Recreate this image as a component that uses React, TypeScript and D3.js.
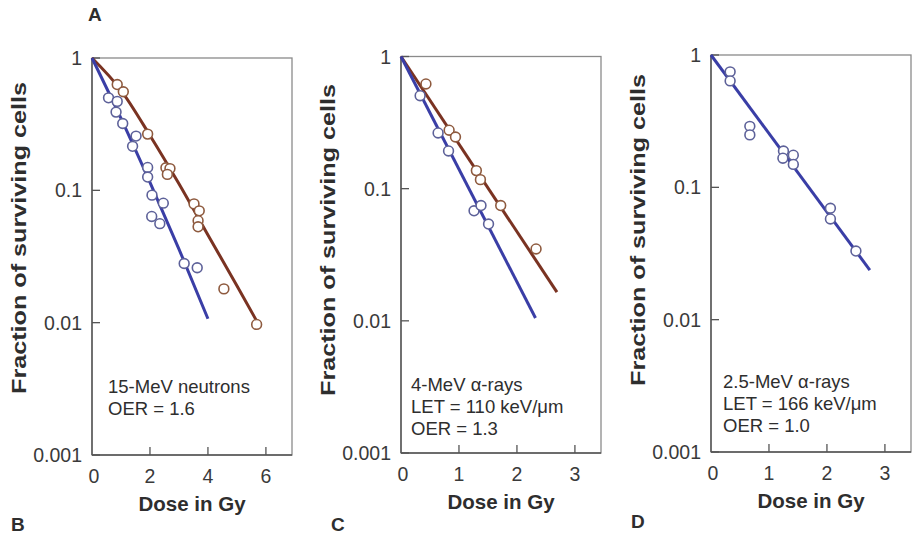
import React from 'react';
import * as d3 from 'd3';

type Pt = [number, number]; // [dose in Gy, surviving fraction]

// Shared survival axis
const yTickValues = [1, 0.1, 0.01, 0.001];
const yTickLabels = ['1', '0.1', '0.01', '0.001'];

// Panel B: 15-MeV neutrons
const neutronXTicks = [0, 2, 4, 6];
const neutronAerobicPts: Pt[] = [
  [0.57, 0.5], [0.87, 0.47], [0.83, 0.39], [1.06, 0.32], [1.52, 0.257], [1.4, 0.215],
  [1.92, 0.149], [1.92, 0.126], [2.07, 0.092], [2.46, 0.08], [2.06, 0.0635], [2.34, 0.056],
  [3.18, 0.028], [3.63, 0.026],
];
const neutronHypoxicPts: Pt[] = [
  [0.87, 0.63], [1.08, 0.556], [1.92, 0.266], [2.55, 0.148], [2.69, 0.146], [2.6, 0.132],
  [3.52, 0.079], [3.7, 0.07], [3.66, 0.059], [3.66, 0.053], [4.55, 0.018], [5.68, 0.0097],
];
const neutronAerobicCurve: Pt[] = [[0, 1], [1, 0.35], [2, 0.115], [3, 0.036], [4, 0.0107]];
const neutronHypoxicCurve: Pt[] = [
  [0, 1], [1, 0.57], [2, 0.26], [3, 0.112], [4, 0.046], [5, 0.019], [5.66, 0.0105],
];
const neutronNote = ['15-MeV neutrons', 'OER = 1.6'];

// Panel C: 4-MeV alpha particles
const alphaXTicks = [0, 1, 2, 3];
const alpha4AerobicPts: Pt[] = [
  [0.33, 0.505], [0.64, 0.264], [0.82, 0.193], [1.26, 0.068], [1.38, 0.0745], [1.51, 0.054],
];
const alpha4HypoxicPts: Pt[] = [
  [0.43, 0.62], [0.83, 0.277], [0.94, 0.246], [1.3, 0.137], [1.37, 0.117], [1.72, 0.0745],
  [2.33, 0.035],
];
const alpha4AerobicCurve: Pt[] = [[0, 1], [2.32, 0.0105]];
const alpha4HypoxicCurve: Pt[] = [[0, 1], [2.69, 0.0165]];
const alpha4Note = ['4-MeV \u03b1-rays', 'LET = 110 keV/\u03bcm', 'OER = 1.3'];

// Panel D: 2.5-MeV alpha particles
const alpha25Pts: Pt[] = [
  [0.33, 0.746], [0.33, 0.637], [0.67, 0.289], [0.67, 0.249], [1.25, 0.188], [1.24, 0.166],
  [1.42, 0.175], [1.42, 0.149], [2.06, 0.0695], [2.06, 0.0577], [2.5, 0.033],
];
const alpha25Curve: Pt[] = [[0, 1], [2.74, 0.0237]];
const alpha25Note = ['2.5-MeV \u03b1-rays', 'LET = 166 keV/\u03bcm', 'OER = 1.0'];

const BLUE = '#3a3ea6';
const BROWN = '#7a3322';
const BLUE_PT = '#5d6199';
const BROWN_PT = '#8e5a3e';
const TEXT = '#2e2e2e';
const TICK_TEXT = '#3a3a3a';
const FONT = "'Liberation Sans', Arial, Helvetica, sans-serif";

interface Series {
  curve: Pt[];
  points: Pt[];
  line: string;
  marker: string;
}

interface PanelProps {
  left: number;
  right: number;
  top: number;
  bottom: number;
  xMax: number;
  xTicks: number[];
  series: Series[];
  note: string[];
  noteX: number;
  noteY: number;
  titleY: number;
  letter: string;
  letterX: number;
  letterY: number;
}

function Panel(p: PanelProps) {
  const x = d3.scaleLinear().domain([0, p.xMax]).range([p.left, p.right]);
  const y = d3.scaleLog().domain([0.001, 1]).range([p.bottom, p.top]);
  const line = d3
    .line<Pt>()
    .x((d) => x(d[0]))
    .y((d) => y(d[1]))
    .curve(d3.curveMonotoneX);
  const cx = (p.left + p.right) / 2;
  return (
    <g>
      {/* frame */}
      <rect
        x={p.left}
        y={p.top}
        width={p.right - p.left}
        height={p.bottom - p.top}
        fill="none"
        stroke="#8a8a8a"
        strokeWidth={1.3}
      />
      <line x1={p.left} x2={p.left} y1={p.top} y2={p.bottom} stroke="#555" strokeWidth={1.4} />
      <line x1={p.left} x2={p.right} y1={p.bottom} y2={p.bottom} stroke="#555" strokeWidth={1.4} />

      {/* y ticks */}
      {yTickValues.map((v, i) => (
        <g key={'y' + i}>
          <line x1={p.left} x2={p.left + 8} y1={y(v)} y2={y(v)} stroke="#555" strokeWidth={1.3} />
          <text
            x={p.left - 10}
            y={y(v)}
            dy="0.36em"
            textAnchor="end"
            fontSize={19.5}
            fill={TICK_TEXT}
            fontFamily={FONT}
          >
            {yTickLabels[i]}
          </text>
        </g>
      ))}

      {/* x ticks */}
      {p.xTicks.map((v) => (
        <g key={'x' + v}>
          {v > 0 && (
            <line x1={x(v)} x2={x(v)} y1={p.bottom} y2={p.bottom - 8} stroke="#555" strokeWidth={1.3} />
          )}
          <text
            x={x(v) + (v === 0 ? 2 : 0)}
            y={p.bottom + 28}
            textAnchor="middle"
            fontSize={19.5}
            fill={TICK_TEXT}
            fontFamily={FONT}
          >
            {v}
          </text>
        </g>
      ))}

      {/* axis titles */}
      <text
        x={cx}
        y={p.bottom + 56}
        textAnchor="middle"
        fontSize={20.5}
        fontWeight="bold"
        fill={TEXT}
        fontFamily={FONT}
      >
        Dose in Gy
      </text>
      <text
        transform={`translate(${p.left - 66},${p.titleY}) rotate(-90)`}
        textAnchor="middle"
        fontSize={21}
        fontWeight="bold"
        fill={TEXT}
        fontFamily={FONT}
        textLength={312}
        lengthAdjust="spacingAndGlyphs"
      >
        Fraction of surviving cells
      </text>

      {/* survival curves */}
      {p.series.map((s, i) => (
        <path key={'c' + i} d={line(s.curve) || ''} fill="none" stroke={s.line} strokeWidth={3} />
      ))}

      {/* measured points */}
      {p.series.map((s, i) =>
        s.points.map((d, j) => (
          <circle
            key={`p${i}-${j}`}
            cx={x(d[0])}
            cy={y(d[1])}
            r={4.9}
            fill="#fff"
            stroke={s.marker}
            strokeWidth={1.6}
          />
        ))
      )}

      {/* radiation label */}
      {p.note.map((t, i) => (
        <text
          key={'n' + i}
          x={p.noteX}
          y={p.noteY + i * 22}
          fontSize={18.5}
          fill={TEXT}
          fontFamily={FONT}
        >
          {t}
        </text>
      ))}

      <text
        x={p.letterX}
        y={p.letterY}
        fontSize={19}
        fontWeight="bold"
        fill={TEXT}
        fontFamily={FONT}
      >
        {p.letter}
      </text>
    </g>
  );
}

export default function App() {
  return (
    <svg
      width={913}
      height={535}
      style={{ position: 'absolute', left: 0, top: 0, background: '#fff' }}
    >
      <text x={88} y={21} fontSize={19} fontWeight="bold" fill={TEXT} fontFamily={FONT}>
        A
      </text>
      <Panel
        left={92}
        right={292}
        top={58}
        bottom={455}
        xMax={6.9}
        xTicks={neutronXTicks}
        series={[
          { curve: neutronHypoxicCurve, points: neutronHypoxicPts, line: BROWN, marker: BROWN_PT },
          { curve: neutronAerobicCurve, points: neutronAerobicPts, line: BLUE, marker: BLUE_PT },
        ]}
        note={neutronNote}
        noteX={108}
        noteY={393}
        titleY={238}
        letter="B"
        letterX={11}
        letterY={531}
      />
      <Panel
        left={401}
        right={601}
        top={56.5}
        bottom={453}
        xMax={3.45}
        xTicks={alphaXTicks}
        series={[
          { curve: alpha4HypoxicCurve, points: alpha4HypoxicPts, line: BROWN, marker: BROWN_PT },
          { curve: alpha4AerobicCurve, points: alpha4AerobicPts, line: BLUE, marker: BLUE_PT },
        ]}
        note={alpha4Note}
        noteX={411}
        noteY={391}
        titleY={240}
        letter="C"
        letterX={331}
        letterY={531}
      />
      <Panel
        left={711}
        right={911}
        top={55}
        bottom={452}
        xMax={3.45}
        xTicks={alphaXTicks}
        series={[{ curve: alpha25Curve, points: alpha25Pts, line: BLUE, marker: BLUE_PT }]}
        note={alpha25Note}
        noteX={723}
        noteY={388}
        titleY={230}
        letter="D"
        letterX={631}
        letterY={528}
      />
    </svg>
  );
}
